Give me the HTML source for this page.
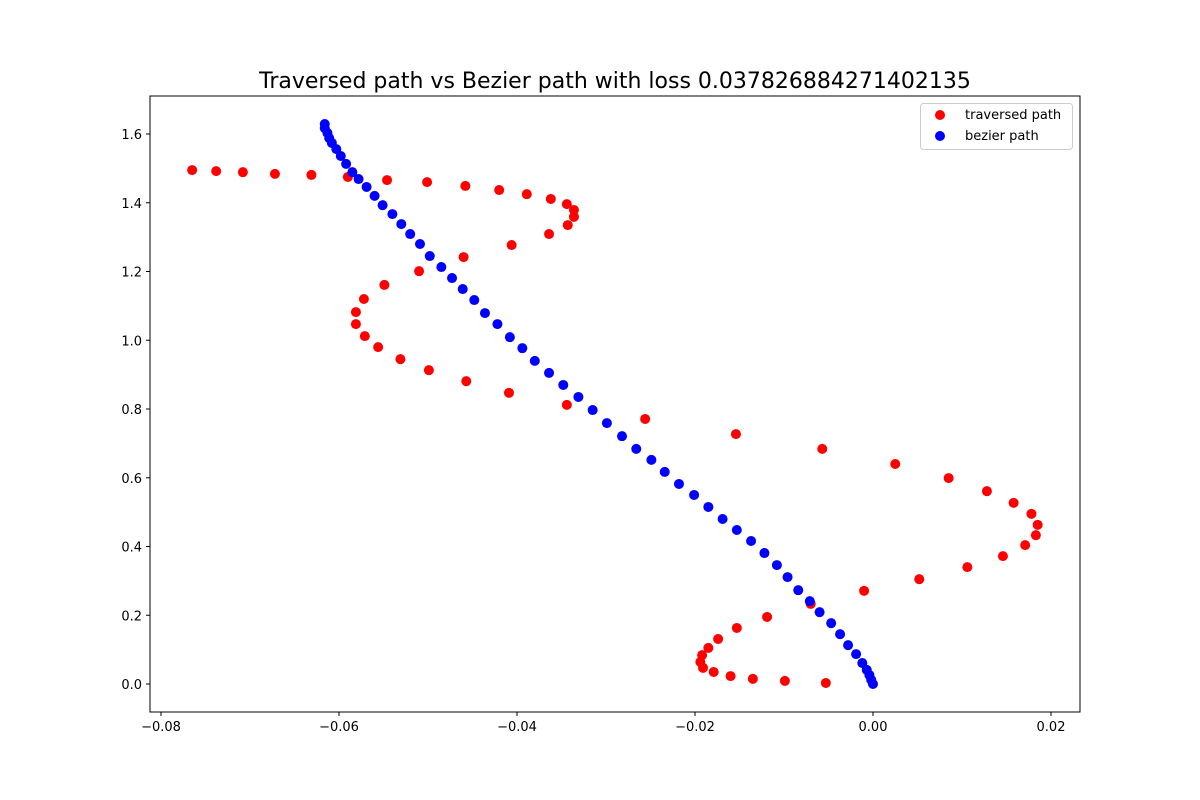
<!DOCTYPE html>
<html><head><meta charset="utf-8"><style>body{margin:0;background:#fff}svg{display:block;font-family:"DejaVu Sans","Liberation Sans",sans-serif}</style></head>
<body>
<svg id="chart" width="1200" height="800" xmlns="http://www.w3.org/2000/svg">
<rect width="1200" height="800" fill="#fff"/>
<text x="615" y="88" text-anchor="middle" font-size="22">Traversed path vs Bezier path with loss 0.037826884271402135</text>
<g id="marks"></g>
<rect x="150" y="96" width="930" height="616" fill="none" stroke="#000" stroke-width="1"/>
<g id="axes"></g>
<g>
<rect x="920.5" y="103.5" width="152" height="46" rx="3" fill="#fff" stroke="#ccc"/>
<circle cx="940" cy="115" r="5" fill="red"/>
<text x="965" y="119" font-size="13">traversed path</text>
<circle cx="940" cy="136" r="5" fill="blue"/>
<text x="965" y="140" font-size="13">bezier path</text>
</g>
</svg>
<script>
const traversedX=[-0.0765,-0.0738,-0.0708,-0.0672,-0.0631,-0.0590,-0.0546,-0.0501,-0.0458,-0.0420,-0.0389,-0.0362,-0.0344,-0.0336,-0.0336,-0.0343,-0.0364,-0.0406,-0.0460,-0.0510,-0.0549,-0.0572,-0.0581,-0.0581,-0.0571,-0.0556,-0.0531,-0.0499,-0.0457,-0.0409,-0.0344,-0.0256,-0.0154,-0.0057,0.0025,0.0085,0.0128,0.0158,0.0178,0.0185,0.0183,0.0171,0.0146,0.0106,0.0052,-0.0010,-0.0070,-0.0119,-0.0153,-0.0174,-0.0185,-0.0192,-0.0194,-0.0191,-0.0179,-0.0160,-0.0135,-0.0099,-0.0053];
const traversedY=[1.495,1.492,1.489,1.484,1.481,1.475,1.466,1.460,1.449,1.437,1.425,1.411,1.396,1.379,1.359,1.335,1.309,1.277,1.242,1.201,1.161,1.120,1.082,1.047,1.012,0.980,0.945,0.913,0.881,0.847,0.812,0.771,0.727,0.684,0.640,0.599,0.561,0.527,0.495,0.463,0.433,0.404,0.372,0.340,0.305,0.271,0.233,0.195,0.163,0.131,0.105,0.084,0.064,0.047,0.035,0.023,0.015,0.009,0.003];
const bezierX=[-0.0616,-0.0616,-0.0613,-0.0611,-0.0608,-0.0603,-0.0598,-0.0592,-0.0585,-0.0578,-0.0569,-0.0560,-0.0551,-0.0540,-0.0530,-0.0520,-0.0509,-0.0498,-0.0485,-0.0473,-0.0461,-0.0448,-0.0436,-0.0422,-0.0408,-0.0394,-0.0380,-0.0364,-0.0348,-0.0331,-0.0315,-0.0299,-0.0282,-0.0266,-0.0249,-0.0234,-0.0218,-0.0201,-0.0185,-0.0169,-0.0153,-0.0137,-0.0122,-0.0108,-0.0096,-0.0084,-0.0071,-0.0060,-0.0047,-0.0037,-0.0028,-0.0019,-0.0012,-0.0007,-0.0004,-0.0002,0.0];
const bezierY=[1.629,1.617,1.603,1.588,1.574,1.556,1.536,1.513,1.489,1.469,1.446,1.420,1.393,1.367,1.338,1.309,1.280,1.245,1.213,1.181,1.149,1.117,1.079,1.047,1.009,0.977,0.940,0.905,0.870,0.835,0.797,0.759,0.721,0.684,0.652,0.617,0.582,0.550,0.515,0.480,0.448,0.416,0.381,0.346,0.311,0.273,0.241,0.209,0.177,0.145,0.113,0.087,0.061,0.041,0.026,0.012,0.0];
const xTicks=[-0.08,-0.06,-0.04,-0.02,0.00,0.02];
const xTickLabels=["\u22120.08","\u22120.06","\u22120.04","\u22120.02","0.00","0.02"];
const yTicks=[0.0,0.2,0.4,0.6,0.8,1.0,1.2,1.4,1.6];
const yTickLabels=["0.0","0.2","0.4","0.6","0.8","1.0","1.2","1.4","1.6"];

const NS="http://www.w3.org/2000/svg";
function sx(v){return 873+v*8900;}
function sy(v){return 684-v*343.75;}
const marks=document.getElementById('marks');
const axes=document.getElementById('axes');
function mk(tag,attrs,parent){const e=document.createElementNS(NS,tag);for(const k in attrs)e.setAttribute(k,attrs[k]);parent.appendChild(e);return e;}
traversedX.forEach((x,i)=>{
  const c=mk('circle',{cx:sx(x),cy:sy(traversedY[i]),r:5,fill:'red'},marks);
  
  
});
bezierX.forEach((x,i)=>{
  const c=mk('circle',{cx:sx(x),cy:sy(bezierY[i]),r:5,fill:'blue'},marks);
  
  
});
xTicks.forEach((v,i)=>{
  const px=sx(v);
  const l=mk('line',{x1:px,x2:px,y1:712,y2:716,stroke:'#000'},axes);
  
  
  const t=mk('text',{x:px,y:731,'text-anchor':'middle','font-size':13},axes);
  
  
  t.textContent=xTickLabels[i];
});
yTicks.forEach((v,i)=>{
  const py=sy(v);
  const l=mk('line',{x1:146,x2:150,y1:py,y2:py,stroke:'#000'},axes);
  
  
  const t=mk('text',{x:142,y:py+5,'text-anchor':'end','font-size':13},axes);
  
  
  t.textContent=yTickLabels[i];
});
</script>
</body></html>
